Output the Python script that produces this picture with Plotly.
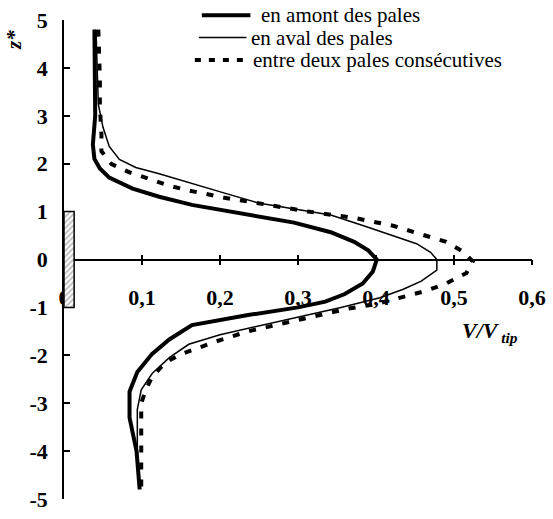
import plotly.graph_objects as go

# --- data ---
amont_z = [4.8, 4.0, 3.0, 2.4, 2.1, 1.9, 1.71, 1.48, 1.31, 1.14, 1.02, 0.9, 0.77, 0.57, 0.37, 0.19, 0.0,
           -0.25, -0.5, -0.72, -0.88, -1.0, -1.16, -1.37, -1.67, -1.97, -2.35, -2.76, -3.3, -4.0, -4.8]
amont_v = [0.039, 0.040, 0.040, 0.037, 0.039, 0.046, 0.058, 0.088, 0.122, 0.164, 0.207, 0.245, 0.295, 0.342, 0.372, 0.390, 0.401,
           0.396, 0.383, 0.360, 0.335, 0.300, 0.236, 0.164, 0.135, 0.113, 0.094, 0.084, 0.084, 0.093, 0.097]

aval_z = [4.8, 4.0, 3.24, 2.76, 2.36, 2.09, 1.92, 1.79, 1.58, 1.38, 1.18, 0.93, 0.7, 0.47, 0.33, 0.15, 0.0,
          -0.22, -0.45, -0.62, -0.8, -1.0, -1.2, -1.44, -1.57, -1.77, -2.05, -2.38, -2.72, -3.13, -4.0, -4.8]
aval_v = [0.041, 0.043, 0.044, 0.050, 0.058, 0.071, 0.092, 0.122, 0.164, 0.207, 0.249, 0.342, 0.385, 0.427, 0.452, 0.470, 0.478,
          0.478, 0.458, 0.435, 0.405, 0.355, 0.300, 0.235, 0.200, 0.160, 0.135, 0.113, 0.099, 0.094, 0.094, 0.097]

entre_z = [4.8, 4.39, 3.78, 3.2, 2.83, 2.6, 2.26, 1.99, 1.82, 1.69, 1.54, 1.44, 1.34, 1.26, 1.20, 1.14, 1.0, 0.87, 0.70, 0.49,
           0.37, 0.16, -0.04, -0.28, -0.5, -0.65, -0.8, -0.93, -1.03, -1.27, -1.5, -1.71, -1.87, -1.97, -2.15, -2.45,
           -2.72, -3.0, -3.77, -4.28, -4.8]
entre_v = [0.044, 0.045, 0.046, 0.046, 0.048, 0.048, 0.048, 0.061, 0.084, 0.109, 0.135, 0.160, 0.189, 0.215, 0.240, 0.262,
           0.313, 0.372, 0.423, 0.465, 0.490, 0.512, 0.524, 0.516, 0.490, 0.465, 0.430, 0.400, 0.363, 0.300, 0.236, 0.195,
           0.170, 0.151, 0.130, 0.113, 0.105, 0.099, 0.099, 0.099, 0.099]

blade_v = [0.0, 0.013]
blade_z = [-1.0, 1.0]

series_names = ["en amont des pales", "en aval des pales", "entre deux pales consécutives"]

x_tickvals = [0, 0.1, 0.2, 0.3, 0.4, 0.5, 0.6]
x_ticktext = ["0", "0,1", "0,2", "0,3", "0,4", "0,5", "0,6"]
y_tickvals = [5, 4, 3, 2, 1, 0, -1, -2, -3, -4, -5]
y_ticktext = ["5", "4", "3", "2", "1", "0", "-1", "-2", "-3", "-4", "-5"]

FONT = "Times New Roman, Liberation Serif, Times, DejaVu Serif, serif"

# plot area in pixels (for placing the hand-drawn legend)
W, H = 553, 519
ML, MR, MT, MB = 64, 17, 20, 7
PW, PH = W - ML - MR, H - MT - MB


def px(x):
    return (x - ML) / PW


def py(y):
    return (H - MB - y) / PH


styles = [dict(color="black", width=4),
          dict(color="black", width=1.5),
          dict(color="black", width=4, dash="7px,10px")]

fig = go.Figure()

fig.add_trace(go.Scatter(
    x=[blade_v[0], blade_v[1], blade_v[1], blade_v[0], blade_v[0]],
    y=[blade_z[0], blade_z[0], blade_z[1], blade_z[1], blade_z[0]],
    mode="lines", fill="toself", fillcolor="white",
    fillpattern=dict(shape="/", fgcolor="#707070", bgcolor="white", size=4, solidity=0.4),
    line=dict(color="black", width=1.5), showlegend=False, hoverinfo="skip"))

for v, z, name, st in zip([amont_v, aval_v, entre_v], [amont_z, aval_z, entre_z], series_names, styles):
    fig.add_trace(go.Scatter(x=v, y=z, mode="lines", name=name, line=st, showlegend=False))

# dummy trace on the overlaying axis carrying the upward half of the crossing ticks
fig.add_trace(go.Scatter(x=[0.3], y=[0], xaxis="x2", mode="markers", marker=dict(opacity=0),
                         showlegend=False, hoverinfo="skip"))

# hand-drawn legend (sample line + label)
legend_rows = [(203, 252, 15, 261), (200, 248, 38, 251), (196, 248, 61, 253)]
shapes = []
annotations = []
for (x0, x1, yy, tx), name, st in zip(legend_rows, series_names, styles):
    ln = dict(color=st["color"], width=st["width"])
    if "dash" in st:
        ln["dash"] = "6px,8px"
    shapes.append(dict(type="line", xref="paper", yref="paper", x0=px(x0), x1=px(x1),
                       y0=py(yy), y1=py(yy), line=ln))
    annotations.append(dict(text=name, xref="paper", yref="paper", x=px(tx), y=py(yy),
                            xanchor="left", yanchor="middle", showarrow=False,
                            font=dict(family=FONT, size=21, color="black")))

annotations.append(dict(text="<b><i>z*</i></b>", xref="paper", yref="paper", x=px(14), y=py(40),
                        xanchor="center", yanchor="middle", showarrow=False, textangle=-90,
                        font=dict(family=FONT, size=21, color="black")))
annotations.append(dict(text="<b><i>V/V</i></b><sub><b><i> tip</i></b></sub>", xref="paper", yref="paper",
                        x=px(494), y=py(340), xanchor="center", yanchor="middle", showarrow=False,
                        font=dict(family=FONT, size=22, color="black")))

tickfont = dict(family=FONT, size=22, color="black")

fig.update_layout(
    width=W, height=H,
    margin=dict(l=ML, r=MR, t=MT, b=MB),
    plot_bgcolor="white", paper_bgcolor="white",
    font=dict(family=FONT, color="black"),
    showlegend=False,
    xaxis=dict(range=[0, 0.6], anchor="free", position=0.5, showgrid=False, zeroline=False,
               showline=True, linecolor="black", linewidth=1.5,
               ticks="outside", ticklen=5, tickwidth=1.5, tickcolor="black",
               tickvals=x_tickvals, ticktext=["<b>%s</b>" % t for t in x_ticktext],
               ticklabelstandoff=13, ticklabeloverflow="allow",
               tickfont=tickfont, layer="below traces"),
    xaxis2=dict(range=[0, 0.6], overlaying="x", anchor="free", position=0.5, matches="x",
                showgrid=False, zeroline=False, showline=False, showticklabels=False,
                ticks="inside", ticklen=5, tickwidth=1.5, tickcolor="black",
                tickvals=x_tickvals, layer="below traces"),
    yaxis=dict(range=[-5, 5], showgrid=False, zeroline=False,
               showline=True, linecolor="black", linewidth=1.5,
               ticks="inside", ticklen=6, tickwidth=1.5, tickcolor="black",
               tickvals=y_tickvals, ticktext=["<b>%s</b>" % t for t in y_ticktext],
               ticklabelstandoff=10, ticklabeloverflow="allow",
               tickfont=tickfont, layer="below traces"),
    shapes=shapes,
    annotations=annotations,
)

fig.write_html("out.html")
